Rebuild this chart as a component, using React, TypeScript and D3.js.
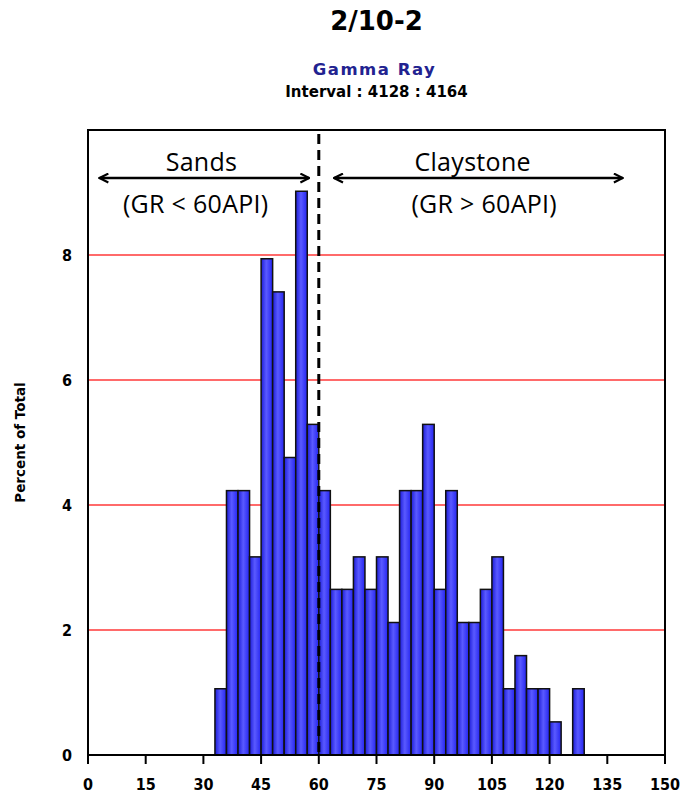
import React from "react";
import * as d3 from "d3";

// histogram bins of gamma ray (API), 3 API wide
const binStarts = [33, 36, 39, 42, 45, 48, 51, 54, 57, 60, 63, 66, 69, 72, 75, 78, 81, 84, 87, 90, 93, 96, 99, 102, 105, 108, 111, 114, 117, 120, 123, 126];
const percents = [1.06, 4.23, 4.23, 3.17, 7.94, 7.41, 4.76, 9.02, 5.29, 4.23, 2.65, 2.65, 3.17, 2.65, 3.17, 2.12, 4.23, 4.23, 5.29, 2.65, 4.23, 2.12, 2.12, 2.65, 3.17, 1.06, 1.59, 1.06, 1.06, 0.53, 0, 1.06];
const binWidth = 3;
const xTicks = [0, 15, 30, 45, 60, 75, 90, 105, 120, 135, 150];
const yTicks = [0, 2, 4, 6, 8];
const gridLines = [2, 4, 6, 8];
const cutoff = 60;
const sandArrow = [3, 57.5];
const clayArrow = [64, 139];

const W = 682, H = 799;
const margin = { left: 88, right: 17, top: 130, bottom: 44 };

export default function App() {
  const x = d3.scaleLinear().domain([0, 150]).range([margin.left, W - margin.right]);
  const y = d3.scaleLinear().domain([0, 10]).range([H - margin.bottom, margin.top]);
  const bars = binStarts.map((b, i) => ({ x0: b, v: percents[i] })).filter(d => d.v > 0);
  const font = "'DejaVu Sans', Verdana, sans-serif";
  const condFont = "'DejaVu Sans Condensed', 'DejaVu Sans', sans-serif";
  const annFont = "'Open Sans', 'Noto Sans', sans-serif";
  const midX = (x(0) + x(150)) / 2;
  const arrowY = 178;

  return (
    <div style={{ position: "absolute", left: 0, top: 0 }}>
      <svg width={W} height={H} style={{ display: "block", background: "#fff" }}>
        <defs>
          <linearGradient id="barGrad" x1="0" x2="1" y1="0" y2="0">
            <stop offset="0%" stopColor="#1c1cd8" />
            <stop offset="45%" stopColor="#5a5aff" />
            <stop offset="100%" stopColor="#2424f0" />
          </linearGradient>
          <marker id="ah" viewBox="0 0 10 10" refX="9" refY="5" markerWidth="11" markerHeight="11" orient="auto-start-reverse" markerUnits="userSpaceOnUse">
            <path d="M1,1 L9,5 L1,9" fill="none" stroke="#000" strokeWidth="2" />
          </marker>
        </defs>

        <text x={midX} y={30} textAnchor="middle" fontFamily={font} fontWeight="bold" fontSize={26}>2/10-2</text>
        <text x={midX - 2} y={75} textAnchor="middle" fontFamily={font} fontWeight="bold" fontSize={16.5} letterSpacing={1.5} fill="#222290">Gamma Ray</text>
        <text x={midX} y={97} textAnchor="middle" fontFamily={font} fontWeight="bold" fontSize={15}>Interval : 4128 : 4164</text>

        {gridLines.map(g => (
          <line key={g} x1={x(0)} x2={x(150)} y1={y(g)} y2={y(g)} stroke="#ff6a6a" strokeWidth={2} />
        ))}

        {bars.map(d => (
          <rect key={d.x0} x={x(d.x0)} y={y(d.v)} width={x(d.x0 + binWidth) - x(d.x0)} height={y(0) - y(d.v)}
            fill="url(#barGrad)" stroke="#111" strokeWidth={1.5} />
        ))}

        <line x1={x(cutoff)} x2={x(cutoff)} y1={y(10) + 4} y2={y(0)} stroke="#000" strokeWidth={3} strokeDasharray="10,6" />

        <rect x={x(0)} y={y(10)} width={x(150) - x(0)} height={y(0) - y(10)} fill="none" stroke="#000" strokeWidth={2} />

        {xTicks.map(t => (
          <g key={t}>
            <line x1={x(t)} x2={x(t)} y1={y(0)} y2={y(0) + 9} stroke="#000" strokeWidth={2} />
            <text x={x(t)} y={y(0) + 35} textAnchor="middle" fontFamily={condFont} fontWeight="bold" fontSize={16}>{t}</text>
          </g>
        ))}
        {yTicks.map(t => (
          <text key={t} x={x(0) - 16} y={y(t) + 6} textAnchor="end" fontFamily={condFont} fontWeight="bold" fontSize={16}>{t}</text>
        ))}
        <text transform={`translate(25,${(y(0) + y(10)) / 2}) rotate(-90)`} textAnchor="middle" fontFamily={font} fontWeight="bold" fontSize={13.5}>Percent of Total</text>

        <line x1={x(sandArrow[0])} x2={x(sandArrow[1])} y1={arrowY} y2={arrowY} stroke="#000" strokeWidth={2.5} markerStart="url(#ah)" markerEnd="url(#ah)" />
        <line x1={x(clayArrow[0])} x2={x(clayArrow[1])} y1={arrowY} y2={arrowY} stroke="#000" strokeWidth={2.5} markerStart="url(#ah)" markerEnd="url(#ah)" />
        <text x={x(29.5)} y={171} textAnchor="middle" fontFamily={annFont} fontSize={25} letterSpacing={0.3}>Sands</text>
        <text x={x(28)} y={213} textAnchor="middle" fontFamily={annFont} fontSize={25} letterSpacing={0.3}>(GR &lt; 60API)</text>
        <text x={x(100)} y={171} textAnchor="middle" fontFamily={annFont} fontSize={25} letterSpacing={0.3}>Claystone</text>
        <text x={x(103)} y={213} textAnchor="middle" fontFamily={annFont} fontSize={25} letterSpacing={0.3}>(GR &gt; 60API)</text>
      </svg>
    </div>
  );
}
